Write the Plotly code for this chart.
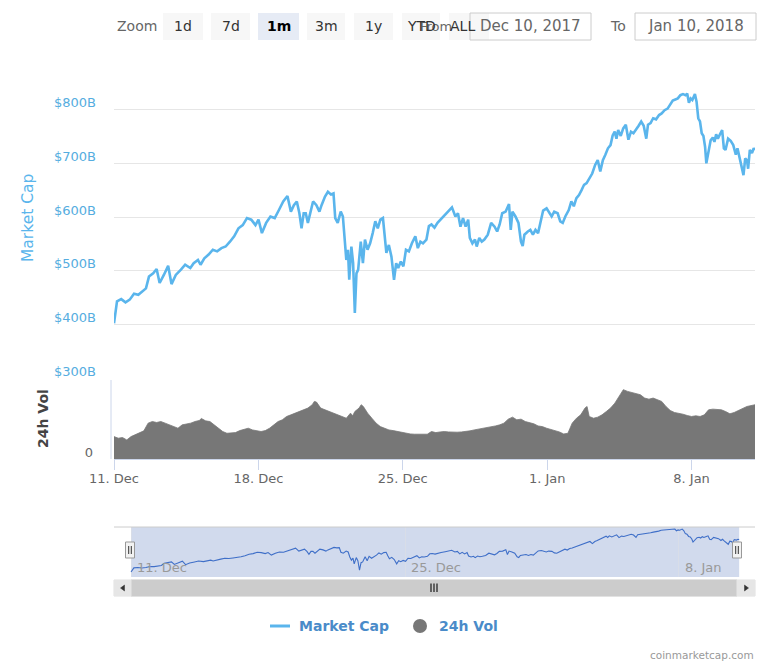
import pandas as pd
import plotly.graph_objects as go

START = pd.Timestamp("2017-12-11 00:00")

# Market cap ($B), hours since Dec 11 00:00
mcap_hours = [0, 3.5, 8.4, 13.4, 18.3, 23.3, 28.3, 33.2, 37.2, 40.7, 45.6, 49.6, 53.1, 58.0, 63.0, 66.9,
              71.9, 77.9, 82.8, 88.8, 92.7, 97.7, 100.7, 105.1, 110.1, 115.0, 120.0, 125.0, 129.9, 134.9,
              139.8, 144.8, 149.8, 154.7, 159.7, 164.6, 168.1, 172.1, 177.0, 182.0, 187.0, 191.9, 196.9,
              201.8, 205.8, 209.3, 212.7, 215.7, 218.2, 220.7, 223.1, 225.6, 228.1, 231.6, 235.5, 239.0,
              241.5, 245.5, 248.9, 252.4, 255.4, 257.4, 260.3, 263.8, 266.3, 268.3, 270.3, 272.2, 273.7,
              276.2, 278.2, 280.2, 282.1, 284.1, 287.1, 289.6, 292.0, 295.0, 298.0, 301.0, 304.0, 306.9,
              309.9, 312.9, 314.9, 316.9, 319.8, 322.8, 325.8, 328.3, 330.7, 333.7, 336.7, 339.7, 343.1,
              346.6, 350.6, 353.5, 356.5, 359.5, 363.5, 366.4, 369.4, 372.9, 376.4, 380.3, 385.3, 389.3,
              393.2, 397.2, 400.2, 403.1, 406.1, 409.1, 412.1, 414.0, 417.0, 420.0, 422.0, 425.0, 427.9,
              430.9, 434.9, 438.8, 442.8, 445.8, 448.7, 451.7, 455.7, 459.6, 461.6, 463.6, 467.1, 470.6,
              473.5, 475.5, 477.5, 481.5, 484.4, 487.4, 490.4, 493.4, 496.4, 499.3, 503.3, 506.3, 509.2,
              512.2, 516.2, 519.2, 522.1, 525.1, 529.1, 532.1, 535.0, 538.0, 541.0, 544.0, 546.9, 549.9,
              552.9, 556.4, 559.8, 562.8, 565.8, 568.8, 571.7, 574.7, 577.7, 580.2, 582.6, 584.6, 586.6,
              589.6, 592.5, 595.5, 598.5, 601.5, 604.4, 607.4, 610.4, 613.4, 616.3, 619.3, 621.3, 624.3,
              627.3, 630.7, 634.2, 637.2, 640.6, 644.1, 647.1, 650.1, 653.1, 656.0, 659.0, 662.0, 665.0,
              666.9, 668.9, 670.9, 672.9, 675.9, 677.8, 679.8, 681.8, 683.8, 685.8, 687.7, 689.2, 691.7,
              694.2, 696.7, 698.6, 700.6, 702.6, 705.6, 707.6, 709.6, 711.5, 714.5, 717.5, 720.5, 723.5,
              725.4, 727.4, 730.4, 732.4, 734.4, 736.4, 737.8, 739.8, 742.3, 744.3, 745.8]
mcap_values = [402, 443, 447, 441, 446, 457, 455, 461, 467, 489, 495, 503, 477, 492, 509, 475,
               492, 502, 511, 505, 514, 520, 511, 523, 530, 539, 536, 542, 545, 554,
               564, 579, 585, 598, 595, 585, 595, 570, 589, 601, 598, 613, 629,
               639, 610, 622, 629, 607, 579, 607, 607, 589, 607, 629, 622, 610,
               622, 638, 647, 642, 644, 598, 589, 610, 601, 551, 520, 539, 483,
               545, 514, 421, 495, 502, 554, 514, 558, 539, 551, 570, 592, 579,
               595, 598, 564, 533, 548, 526, 483, 514, 505, 517, 508, 539, 536,
               551, 564, 542, 554, 551, 558, 583, 586, 580, 589, 596, 604, 613,
               618, 601, 607, 582, 598, 582, 595, 561, 551, 558, 545, 561, 554,
               558, 567, 589, 582, 573, 586, 607, 610, 624, 576, 610, 601, 589,
               554, 546, 567, 573, 576, 567, 576, 570, 595, 612, 616, 607, 601,
               610, 607, 592, 589, 601, 613, 629, 620, 635, 641, 650, 660, 663,
               672, 681, 697, 706, 685, 706, 716, 728, 734, 752, 759, 746, 762,
               751, 765, 772, 744, 759, 756, 762, 770, 778, 770, 746, 772, 775,
               784, 782, 790, 793, 799, 802, 809, 817, 819, 821, 827, 829, 827,
               830, 813, 821, 818, 829, 815, 784, 778, 756, 751, 731, 700, 725,
               743, 748, 740, 754, 746, 756, 762, 728, 725, 746, 742, 734, 716,
               728, 712, 687, 678, 709, 706, 690, 725, 719, 728, 725]

# 24h volume ($B), hours since Dec 11 00:00
vol_hours = [0, 5.0, 9.9, 14.9, 19.8, 24.8, 29.8, 34.7, 39.7, 44.6, 49.6, 54.5, 59.5, 64.5, 69.4,
             74.4, 79.3, 84.3, 89.3, 94.2, 99.2, 101.7, 106.6, 111.6, 116.5, 121.5, 126.5, 131.4,
             136.4, 141.3, 146.3, 151.2, 156.2, 161.2, 166.1, 171.1, 176.0, 181.0, 186.0, 190.9,
             195.9, 200.8, 205.8, 210.8, 215.7, 220.7, 225.6, 230.6, 233.1, 235.6, 238.0, 240.5,
             245.5, 250.4, 255.4, 260.3, 265.3, 270.3, 275.2, 277.7, 280.2, 285.1, 287.6, 290.1,
             292.6, 295.1, 300.0, 305.0, 309.9, 314.9, 319.9, 324.8, 329.8, 334.7, 339.7, 344.7,
             349.6, 354.6, 359.5, 364.5, 369.4, 374.4, 379.4, 384.3, 389.3, 394.2, 399.2, 404.2,
             409.1, 414.1, 419.0, 424.0, 429.0, 433.9, 438.9, 443.8, 448.8, 453.7, 458.7, 463.7,
             468.6, 473.6, 478.5, 483.5, 488.5, 493.4, 498.4, 503.3, 508.3, 513.3, 518.2, 523.2,
             528.1, 530.6, 533.1, 538.1, 543.0, 548.0, 550.4, 552.9, 557.9, 562.8, 567.8, 572.8,
             577.7, 582.7, 587.6, 592.6, 597.6, 602.5, 607.5, 612.4, 617.4, 622.4, 627.3, 632.3,
             637.2, 642.2, 647.2, 652.1, 657.1, 662.0, 667.0, 672.0, 676.9, 681.9, 686.8, 691.8,
             696.8, 701.7, 706.7, 711.6, 716.6, 721.6, 726.5, 731.5, 736.4, 745.8]
vol_values = [16.8, 15.6, 16.1, 14.3, 16.8, 18.1, 19.3, 21.1, 26.9, 28.1, 27.4, 28.1, 26.9, 25.6, 24.3,
              23.1, 25.6, 26.1, 26.9, 28.1, 28.9, 30.4, 28.6, 28.1, 25.6, 23.1, 20.6, 19.3,
              19.3, 19.8, 21.3, 22.3, 23.1, 21.8, 21.3, 20.6, 21.3, 23.1, 25.6, 28.1,
              29.4, 31.9, 33.1, 34.4, 35.6, 36.9, 38.2, 40.7, 43.2, 42.7, 40.7, 38.2,
              36.9, 35.6, 34.4, 33.1, 31.9, 30.6, 34.4, 32.4, 35.6, 38.2, 40.7, 39.4,
              36.9, 34.4, 30.6, 26.9, 24.3, 23.1, 21.8, 21.3, 20.6, 19.8, 19.3, 18.8,
              18.6, 18.6, 18.6, 18.6, 20.6, 19.8, 20.3, 20.6, 20.3, 20.1, 20.1, 20.3,
              20.6, 21.1, 21.8, 22.3, 22.8, 23.6, 24.3, 24.8, 25.6, 26.9, 29.9, 31.4,
              29.4, 29.9, 28.1, 27.4, 26.4, 24.8, 24.3, 23.1, 22.3, 21.3, 20.3, 18.8,
              19.3, 23.1, 26.9, 30.6, 33.1, 38.2, 39.4, 31.9, 30.6, 31.4, 33.1, 35.6,
              38.2, 41.9, 46.9, 52.0, 50.7, 49.9, 49.4, 48.2, 45.7, 44.9, 45.7, 44.4,
              43.2, 39.4, 36.4, 34.9, 34.4, 33.6, 32.6, 31.9, 32.4, 31.9, 33.1, 36.9,
              37.4, 36.9, 36.9, 35.6, 33.9, 34.9, 36.4, 37.4, 39.4, 40.7]

cap_ticks = [300, 400, 500, 600, 700, 800, 900]
cap_ticktext = ["$300B", "$400B", "$500B", "$600B", "$700B", "$800B", ""]
zoom_buttons = ["1d", "7d", "1m", "3m", "1y", "YTD", "ALL"]
selected_button = "1m"
date_from = "Dec 10, 2017"
date_to = "Jan 10, 2018"

mcap_time = [START + pd.Timedelta(hours=h) for h in mcap_hours]
vol_time = [START + pd.Timedelta(hours=h) for h in vol_hours]

W, H = 768, 666
FONT = "DejaVu Sans"


def px(x):
    return x / W


def py(y):
    return 1 - y / H


x_end = START + pd.Timedelta(hours=mcap_hours[-1])
nav_start = pd.Timestamp("2017-12-25") - pd.Timedelta(days=(405 - 114) / 19.57)
nav_end = pd.Timestamp("2017-12-25") + pd.Timedelta(days=(755 - 405) / 19.57)

fig = go.Figure()
fig.add_trace(go.Scatter(x=mcap_time, y=mcap_values, mode="lines", name="Market Cap",
                         line=dict(color="#5ab5ec", width=2.6), xaxis="x", yaxis="y",
                         showlegend=False))
fig.add_trace(go.Scatter(x=vol_time, y=vol_values, mode="lines", name="24h Vol", fill="tozeroy",
                         fillcolor="#777777", line=dict(color="#777777", width=0.8),
                         xaxis="x", yaxis="y2", showlegend=False))
fig.add_trace(go.Scatter(x=mcap_time, y=mcap_values, mode="lines", name="nav",
                         line=dict(color="#3f6fc8", width=1.1), xaxis="x3", yaxis="y3",
                         showlegend=False, hoverinfo="skip"))

shapes = []
annotations = []

# Navigator mask and outline
shapes.append(dict(type="rect", xref="x3", yref="paper", x0=START, x1=x_end, y0=py(577), y1=py(527),
                   fillcolor="rgba(102,133,194,0.3)", line=dict(width=0), layer="below"))
shapes.append(dict(type="line", xref="paper", yref="paper", x0=px(114), x1=px(755), y0=py(527), y1=py(527),
                   line=dict(color="#cccccc", width=1)))
# Volume pane y-axis line
shapes.append(dict(type="line", xref="paper", yref="paper", x0=px(111), x1=px(111), y0=py(380), y1=py(459),
                   line=dict(color="#ccd6eb", width=1)))

# Scrollbar
shapes.append(dict(type="rect", xref="paper", yref="paper", x0=px(114), x1=px(755), y0=py(596), y1=py(580),
                   fillcolor="#f2f2f2", line=dict(color="#f2f2f2", width=1)))
shapes.append(dict(type="rect", xref="paper", yref="paper", x0=px(131), x1=px(737), y0=py(596), y1=py(580),
                   fillcolor="#cccccc", line=dict(color="#cccccc", width=1)))
shapes.append(dict(type="rect", xref="paper", yref="paper", x0=px(114), x1=px(131), y0=py(596), y1=py(580),
                   fillcolor="#e6e6e6", line=dict(color="#e6e6e6", width=1)))
shapes.append(dict(type="rect", xref="paper", yref="paper", x0=px(737), x1=px(755), y0=py(596), y1=py(580),
                   fillcolor="#e6e6e6", line=dict(color="#e6e6e6", width=1)))
shapes.append(dict(type="path", xref="paper", yref="paper",
                   path=f"M {px(124.5)},{py(585)} L {px(120.5)},{py(588)} L {px(124.5)},{py(591)} Z",
                   fillcolor="#333333", line=dict(color="#333333", width=0.5)))
shapes.append(dict(type="path", xref="paper", yref="paper",
                   path=f"M {px(744.5)},{py(585)} L {px(748.5)},{py(588)} L {px(744.5)},{py(591)} Z",
                   fillcolor="#333333", line=dict(color="#333333", width=0.5)))
for gx in (431, 434, 437):
    shapes.append(dict(type="line", xref="paper", yref="paper", x0=px(gx), x1=px(gx), y0=py(583.5), y1=py(592),
                       line=dict(color="#333333", width=1.4)))

# Navigator handles
for hx in (130, 737):
    shapes.append(dict(type="rect", xref="paper", yref="paper", x0=px(hx - 4.5), x1=px(hx + 4.5),
                       y0=py(558), y1=py(542), fillcolor="#f2f2f2", line=dict(color="#999999", width=1)))
    for ix in (hx - 1.3, hx + 1.3):
        shapes.append(dict(type="line", xref="paper", yref="paper", x0=px(ix), x1=px(ix), y0=py(546),
                           y1=py(554), line=dict(color="#333333", width=1)))

# Range selector (drawn)
annotations.append(dict(text="Zoom", x=px(115), y=py(26), xref="paper", yref="paper", xanchor="left",
                        yanchor="middle", showarrow=False, font=dict(family=FONT, size=14, color="#666666")))
btn_x = [(163, 203), (211, 250), (258, 299), (307, 345), (354, 393), (402, 440), (449, 489)]
for (bx0, bx1), lab in zip(btn_x, zoom_buttons):
    sel = lab == selected_button
    shapes.append(dict(type="rect", xref="paper", yref="paper", x0=px(bx0), x1=px(bx1), y0=py(40), y1=py(13),
                       fillcolor="#e6ebf5" if sel else "#f7f7f7", line=dict(width=0)))
annotations.append(dict(text="From", x=px(436), y=py(26), xref="paper", yref="paper", xanchor="center",
                        yanchor="middle", showarrow=False, font=dict(family=FONT, size=13, color="#666666")))
for (bx0, bx1), lab in zip(btn_x, zoom_buttons):
    sel = lab == selected_button
    cx = (bx0 + bx1) / 2 if lab != "ALL" else 462
    annotations.append(dict(text=f"<b>{lab}</b>" if sel else lab, x=px(cx), y=py(26), xref="paper",
                            yref="paper", xanchor="center", yanchor="middle", showarrow=False,
                            font=dict(family=FONT, size=14, color="#000000" if sel else "#333333")))
for (bx0, bx1), txt in [((470, 591), date_from), ((635, 756), date_to)]:
    shapes.append(dict(type="rect", xref="paper", yref="paper", x0=px(bx0), x1=px(bx1), y0=py(40), y1=py(13),
                       fillcolor="rgba(255,255,255,0)", line=dict(color="#cccccc", width=1)))
    annotations.append(dict(text=txt, x=px((bx0 + bx1) / 2), y=py(26), xref="paper", yref="paper",
                            xanchor="center", yanchor="middle", showarrow=False,
                            font=dict(family=FONT, size=15, color="#666666")))
annotations.append(dict(text="To", x=px(618), y=py(26), xref="paper", yref="paper", xanchor="center",
                        yanchor="middle", showarrow=False, font=dict(family=FONT, size=14, color="#666666")))

# Axis titles
annotations.append(dict(text="Market Cap", x=px(28), y=py(218), xref="paper", yref="paper", textangle=-90,
                        xanchor="center", yanchor="middle", showarrow=False,
                        font=dict(family=FONT, size=15.5, color="#5ab5ec")))
annotations.append(dict(text="<b>24h Vol</b>", x=px(43), y=py(419), xref="paper", yref="paper", textangle=-90,
                        xanchor="center", yanchor="middle", showarrow=False,
                        font=dict(family=FONT, size=14, color="#444444")))

# Legend (drawn)
shapes.append(dict(type="line", xref="paper", yref="paper", x0=px(270), x1=px(290), y0=py(626), y1=py(626),
                   line=dict(color="#5ab5ec", width=3)))
annotations.append(dict(text="<b>Market Cap</b>", x=px(297), y=py(626), xref="paper", yref="paper",
                        xanchor="left", yanchor="middle", showarrow=False,
                        font=dict(family=FONT, size=14, color="#4a8bc9")))
shapes.append(dict(type="circle", xref="paper", yref="paper", x0=px(413), x1=px(427), y0=py(633), y1=py(619),
                   fillcolor="#777777", line=dict(color="#777777", width=0)))
annotations.append(dict(text="<b>24h Vol</b>", x=px(437), y=py(626), xref="paper", yref="paper",
                        xanchor="left", yanchor="middle", showarrow=False,
                        font=dict(family=FONT, size=14, color="#4a8bc9")))
# Credits
annotations.append(dict(text="coinmarketcap.com", x=px(756), y=py(655), xref="paper", yref="paper",
                        xanchor="right", yanchor="middle", showarrow=False,
                        font=dict(family=FONT, size=10.5, color="#999999")))

fig.update_layout(
    width=W, height=H, margin=dict(l=0, r=0, t=0, b=0, autoexpand=False),
    paper_bgcolor="white", plot_bgcolor="rgba(0,0,0,0)",
    font=dict(family=FONT, size=13, color="#666666"),
    showlegend=False,
    xaxis=dict(domain=[px(114), px(755)], anchor="y2", type="date", range=[START, x_end],
               tick0="2017-12-11", dtick=7 * 86400000, tickformat="%-d. %b", automargin=False,
               ticks="outside", ticklen=10, tickcolor="#ccd6eb", showline=True, linecolor="#ccd6eb",
               showgrid=False, zeroline=False, ticklabelstandoff=-3,
               tickfont=dict(family=FONT, size=13, color="#666666")),
    yaxis=dict(domain=[py(378), py(56)], anchor="x", range=[300, 900], tickvals=cap_ticks,
               ticktext=cap_ticktext, gridcolor="#e6e6e6", showline=False, zeroline=False, automargin=False,
               tickfont=dict(family=FONT, size=13, color="#55ade0"), ticklabelshift=-7,
               ticklabelstandoff=17),
    yaxis2=dict(domain=[py(459), py(379)], anchor="x", range=[0, 60], tickvals=[0, 60], ticktext=["0", ""],
                gridcolor="#e6e6e6", showline=False, zeroline=False, automargin=False,
                tickfont=dict(family=FONT, size=13, color="#666666"), ticklabelshift=-7,
                ticklabelstandoff=20),
    xaxis3=dict(domain=[px(114), px(755)], anchor="y3", type="date", range=[nav_start, nav_end],
                tick0="2017-12-11", dtick=14 * 86400000, tickformat="%-d. %b", automargin=False,
                ticklabelposition="inside right", showgrid=True, gridcolor="#d8dde8",
                showline=False, zeroline=False, ticks="", ticklabelshift=6, ticklabelstandoff=-4,
                tickfont=dict(family=FONT, size=13, color="#999999")),
    yaxis3=dict(domain=[py(577), py(527)], anchor="x3", range=[352, 850], visible=False),
    shapes=shapes, annotations=annotations,
)

fig.write_html("out.html")
